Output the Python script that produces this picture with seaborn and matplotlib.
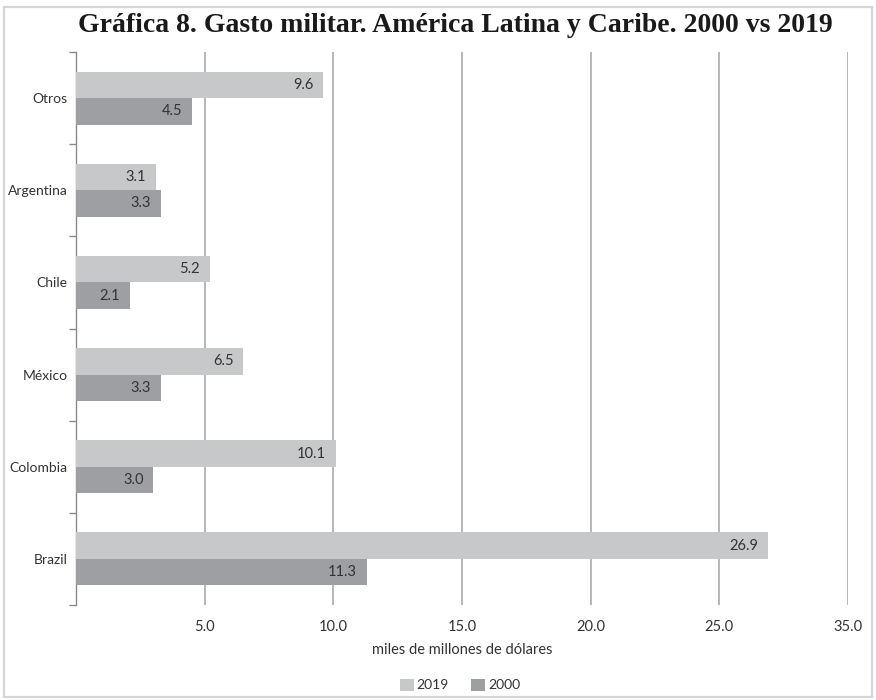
import matplotlib
matplotlib.use("Agg")
import matplotlib.pyplot as plt
from matplotlib.patches import Rectangle
from matplotlib.ticker import FixedLocator, NullFormatter
import pandas as pd
import seaborn as sns

# Data: military spending, billions of US dollars
paises = ["Otros", "Argentina", "Chile", "México", "Colombia", "Brazil"]
gasto_2019 = [9.6, 3.1, 5.2, 6.5, 10.1, 26.9]
gasto_2000 = [4.5, 3.3, 2.1, 3.3, 3.0, 11.3]
anios = ["2019", "2000"]
x_ticks = [5, 10, 15, 20, 25, 30]
x_tick_labels = ["5.0", "10.0", "15.0", "20.0", "25.0", "35.0"]

titulo = "Gráfica 8. Gasto militar. América Latina y Caribe. 2000 vs 2019"
eje_x = "miles de millones de dólares"

df = pd.DataFrame({
    "pais": paises * 2,
    "anio": [anios[0]] * len(paises) + [anios[1]] * len(paises),
    "gasto": gasto_2019 + gasto_2000,
})

sns.set_theme(style="white")
plt.rcParams["font.family"] = ["Lato", "DejaVu Sans"]

colores = {"2019": "#c7c8ca", "2000": "#9e9fa2"}
texto = "#333333"

fig = plt.figure(figsize=(8.76, 7.0), dpi=100)
fig.patch.set_facecolor("white")
fig.patches.append(Rectangle((0.004, 0.004), 0.992, 0.986, transform=fig.transFigure,
                             fill=False, edgecolor="#d6d6d6", linewidth=1.6, zorder=0))

ax = fig.add_axes([76 / 876, 1 - 605 / 700, (848 - 76) / 876, (605 - 52) / 700])

sns.barplot(data=df, x="gasto", y="pais", hue="anio", order=paises, hue_order=anios,
            palette=colores, width=0.575, orient="h", ax=ax, legend=True,
            saturation=1, linewidth=0, zorder=3)

ax.set_xlim(0, 30)
ax.set_ylim(len(paises) - 0.5, -0.5)

# vertical gridlines
ax.set_xticks(x_ticks)
ax.set_xticklabels(x_tick_labels, fontsize=10.5, color=texto)
ax.xaxis.grid(True, color="#a3a3a3", linewidth=1.1, zorder=0)
ax.yaxis.grid(False)
ax.set_axisbelow(True)
ax.tick_params(axis="x", length=0, pad=11)

# category labels centred, boundary ticks between categories
ax.tick_params(axis="y", which="major", length=0, pad=6, labelsize=10, labelcolor=texto)
ax.yaxis.set_minor_locator(FixedLocator([i - 0.5 for i in range(len(paises) + 1)]))
ax.yaxis.set_minor_formatter(NullFormatter())
ax.tick_params(axis="y", which="minor", left=True, length=5, width=1, color="#8a8a8a")

for s in ["top", "right", "bottom"]:
    ax.spines[s].set_visible(False)
ax.spines["left"].set_color("#8a8a8a")
ax.spines["left"].set_linewidth(1)

ax.set_ylabel("")
ax.set_xlabel(eje_x, fontsize=10.5, color=texto, labelpad=6)

# value labels inside the bar ends
for cont, valores in zip(ax.containers, [gasto_2019, gasto_2000]):
    for rect, v in zip(cont, valores):
        ax.annotate(f"{v:.1f}", xy=(v, rect.get_y() + rect.get_height() / 2),
                    xytext=(-7, 0), textcoords="offset points",
                    ha="right", va="center", fontsize=10.5, color=texto, zorder=5)

# legend below the axis title
handles, labels = ax.get_legend_handles_labels()
ax.get_legend().remove()
fig.legend(handles, labels, loc="center", bbox_to_anchor=(460 / 876, 1 - 685 / 700),
           ncol=2, frameon=False, fontsize=10, handlelength=1.0, handleheight=1.0,
           handletextpad=0.2, columnspacing=1.6, labelcolor=texto)

fig.text(455 / 876, 1 - 25 / 700, titulo, ha="center", va="center",
         fontsize=20, fontweight="bold", color="#1a1a1a",
         family=["Liberation Serif", "DejaVu Serif"])

fig.savefig("out.png", dpi=100)
